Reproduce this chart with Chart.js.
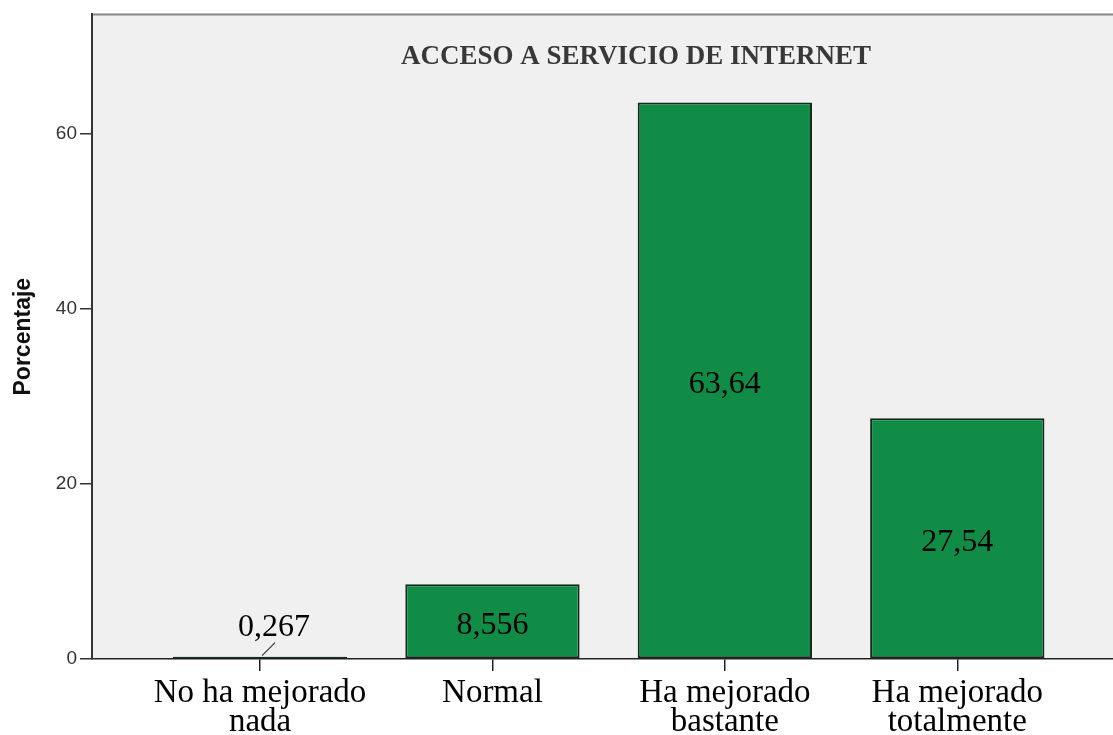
<!DOCTYPE html>
<html>
<head>
<meta charset="utf-8">
<script src="https://cdn.jsdelivr.net/npm/chart.js@4/dist/chart.umd.min.js"></script>
<style>
  body { margin: 0; background: #fff; }
  #wrap { width: 1113px; height: 735px; }
</style>
</head>
<body>
<div id="wrap"><canvas id="internetChart" width="1113" height="735"></canvas></div>
<script>
const categories = [
    ['No ha mejorado', 'nada'],
    ['Normal'],
    ['Ha mejorado', 'bastante'],
    ['Ha mejorado', 'totalmente']
];
const percentages = [0.267, 8.556, 63.64, 27.54];
const valueLabels = ['0,267', '8,556', '63,64', '27,54'];
const yTicks = [0, 20, 40, 60];
const chartTitle = 'ACCESO A SERVICIO DE INTERNET';

const serif = "'Liberation Serif', 'Times New Roman', serif";
const sans = "'Liberation Sans', Arial, sans-serif";

const plotBackground = {
    id: 'plotBackground',
    beforeDraw(chart) {
        const { ctx, chartArea: a } = chart;
        ctx.save();
        ctx.fillStyle = '#f0f0f0';
        ctx.fillRect(a.left, a.top, a.right - a.left, a.bottom - a.top);
        ctx.strokeStyle = '#888';
        ctx.lineWidth = 2;
        ctx.beginPath();
        ctx.moveTo(a.left, a.top);
        ctx.lineTo(a.right, a.top);
        ctx.stroke();
        ctx.restore();
    }
};

const barLabels = {
    id: 'barLabels',
    afterDatasetsDraw(chart) {
        const { ctx, chartArea: a } = chart;
        const meta = chart.getDatasetMeta(0);
        ctx.save();
        ctx.font = '32px ' + serif;
        ctx.fillStyle = '#000';
        ctx.textAlign = 'center';
        ctx.textBaseline = 'middle';
        meta.data.forEach((bar, i) => {
            const h = bar.base - bar.y;
            if (h > 40) {
                ctx.fillText(valueLabels[i], bar.x, (bar.y + bar.base) / 2 + 4);
            } else {
                // small bar: label above with a short leader line
                ctx.fillText(valueLabels[i], bar.x + 14, bar.y - 29);
                ctx.strokeStyle = '#333';
                ctx.lineWidth = 1.2;
                ctx.beginPath();
                ctx.moveTo(bar.x + 2, bar.y - 1);
                ctx.lineTo(bar.x + 15, bar.y - 14);
                ctx.stroke();
            }
        });
        ctx.font = 'bold 27px ' + serif;
        ctx.fillStyle = '#383838';
        ctx.fillText(chartTitle, a.left + 544, 57);
        ctx.restore();
    }
};

const ctx = document.getElementById('internetChart').getContext('2d');
new Chart(ctx, {
    type: 'bar',
    data: {
        datasets: [{
            label: 'Porcentaje',
            data: percentages.map((v, i) => ({ x: i, y: v })),
            backgroundColor: '#118c47',
            borderColor: '#142a1c',
            borderWidth: 2,
            borderSkipped: false,
            barPercentage: 0.75,
            categoryPercentage: 1.0
        }]
    },
    options: {
        responsive: false,
        animation: false,
        layout: { padding: { top: 14, right: 0, left: 0, bottom: 0 } },
        plugins: {
            legend: { display: false },
            tooltip: { enabled: false }
        },
        scales: {
            x: {
                type: 'linear',
                min: -0.723,
                max: 3.67,
                offset: false,
                afterBuildTicks: (scale) => {
                    scale.ticks = categories.map((c, i) => ({ value: i }));
                },
                afterFit: (scale) => { scale.height = 76; },
                grid: {
                    offset: false,
                    drawOnChartArea: false,
                    tickLength: 12,
                    tickColor: '#222',
                    lineWidth: 1.5
                },
                border: { color: '#222', width: 1.5 },
                ticks: {
                    padding: 8,
                    color: '#000',
                    maxRotation: 0,
                    autoSkip: false,
                    font: { family: serif, size: 33, lineHeight: 0.88 },
                    callback: (value) => categories[value]
                }
            },
            y: {
                min: 0,
                max: 73.7,
                afterBuildTicks: (scale) => {
                    scale.ticks = yTicks.map(v => ({ value: v }));
                },
                afterFit: (scale) => { scale.width = 92; },
                grid: {
                    drawOnChartArea: false,
                    tickLength: 12,
                    tickColor: '#333',
                    lineWidth: 1.5
                },
                border: { color: '#333', width: 2 },
                ticks: {
                    padding: 3,
                    color: '#333',
                    font: { family: sans, size: 19 }
                },
                title: {
                    display: true,
                    text: 'Porcentaje',
                    color: '#111',
                    padding: { top: 10, bottom: 0 },
                    font: { family: sans, size: 23, weight: 'bold' }
                }
            }
        }
    },
    plugins: [plotBackground, barLabels]
});
</script>
</body>
</html>
